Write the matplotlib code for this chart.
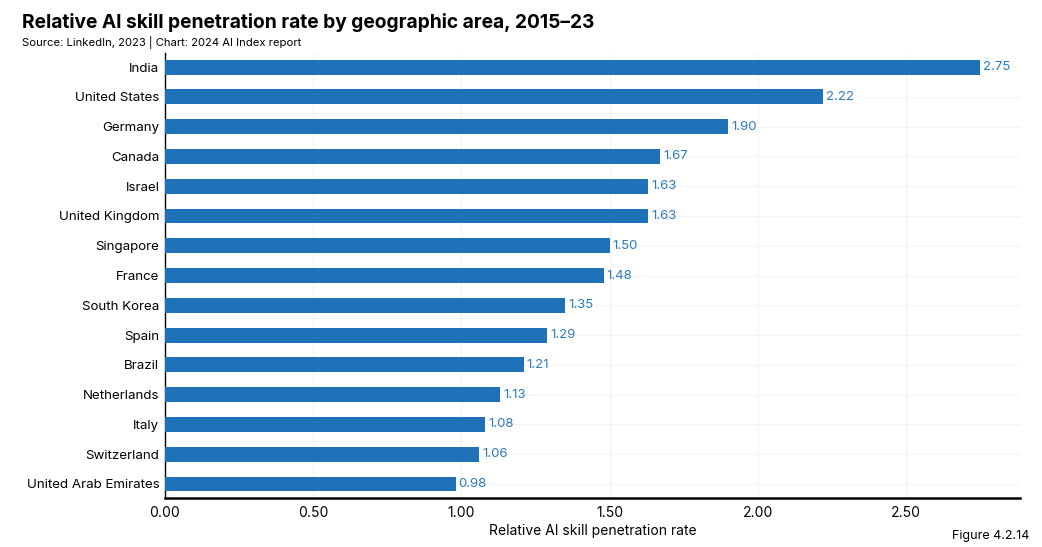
import matplotlib.pyplot as plt

countries = ["India", "United States", "Germany", "Canada", "Israel", "United Kingdom",
             "Singapore", "France", "South Korea", "Spain", "Brazil", "Netherlands",
             "Italy", "Switzerland", "United Arab Emirates"]
rates = [2.75, 2.22, 1.90, 1.67, 1.63, 1.63, 1.50, 1.48, 1.35, 1.29, 1.21, 1.13, 1.08, 1.06, 0.98]
xticks = [0.0, 0.5, 1.0, 1.5, 2.0, 2.5]

plt.rcParams['font.family'] = ['Inter', 'DejaVu Sans']

fig = plt.figure(figsize=(10.42, 5.47), dpi=100)
ax = fig.add_axes([0.1583, 0.0896, 0.8207, 0.8134])

ypos = list(range(len(countries)))
ax.barh(ypos, rates, height=0.5, color="#1f72b8", zorder=3)
for y, v in zip(ypos, rates):
    ax.text(v + 0.01, y, f"{v:.2f}", va="center", ha="left", fontsize=9.5, color="#2b7bba", zorder=4)

ax.set_yticks(ypos)
ax.set_yticklabels(countries, fontsize=9.6)
ax.set_ylim(len(countries) - 0.53, -0.47)
ax.set_xlim(0, 2.884)
ax.set_xticks(xticks)
ax.set_xticklabels([f"{t:.2f}" for t in xticks], fontsize=10)
ax.tick_params(axis="both", length=0, pad=4)
ax.tick_params(axis="x", pad=6)
ax.set_xlabel("Relative AI skill penetration rate", fontsize=10, labelpad=3)

ax.grid(True, color="#f4f4f4", linewidth=0.8, zorder=0)
ax.spines["top"].set_visible(False)
ax.spines["right"].set_visible(False)
ax.spines["left"].set_linewidth(1.0)
ax.spines["bottom"].set_linewidth(1.8)

fig.text(0.021, 0.958, "Relative AI skill penetration rate by geographic area, 2015–23",
         fontsize=13.8, fontweight="bold", va="center", ha="left")
fig.text(0.021, 0.923, "Source: LinkedIn, 2023 | Chart: 2024 AI Index report",
         fontsize=8.1, va="center", ha="left")
fig.text(0.988, 0.02, "Figure 4.2.14", fontsize=9, va="center", ha="right")

fig.savefig("out.png", dpi=100)
